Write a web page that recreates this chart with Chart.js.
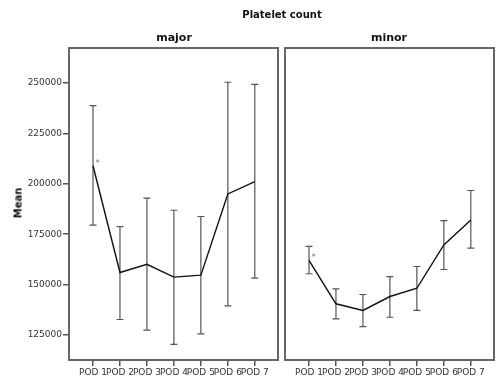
<!DOCTYPE html>
<html>
<head>
<meta charset="utf-8">
<script src="https://cdn.jsdelivr.net/npm/chart.js@4.4.1/dist/chart.umd.min.js"></script>
<style>
  body { margin: 0; background: #fff; }
  #wrap { position: relative; width: 500px; height: 385px; font-family: "DejaVu Sans", sans-serif; }
  canvas { position: absolute; top: 0; }
  .lbl { position: absolute; font-weight: bold; color: #111; white-space: nowrap; }
</style>
</head>
<body>
<div id="wrap">
  <canvas id="major-chart" width="282" height="385" style="left:0"></canvas>
  <canvas id="minor-chart" width="218" height="385" style="left:282px"></canvas>
  <div class="lbl" style="left:282px; top:9px; font-size:10px; transform:translateX(-50%)">Platelet count</div>
  <div class="lbl" style="left:174px; top:31px; font-size:11px; transform:translateX(-50%)">major</div>
  <div class="lbl" style="left:389px; top:31px; font-size:11px; transform:translateX(-50%)">minor</div>
  <div class="lbl" style="left:18px; top:203px; font-size:10px; transform:translate(-50%,-50%) rotate(-90deg)">Mean</div>
</div>
<script>
// === PLATELET COUNT, MEAN WITH ERROR BARS ===

const xLabels = ["POD 1", "POD 2", "POD 3", "POD 4", "POD 5", "POD 6", "POD 7"];
const yTicks  = [125000, 150000, 175000, 200000, 225000, 250000];

const majorMean  = [209000, 156000, 160100, 153700, 154700, 195000, 201100];
const majorUpper = [238800, 178800, 192900, 186900, 183800, 250400, 249400];
const majorLower = [179500, 132700, 127400, 120400, 125600, 139500, 153200];

const minorMean  = [162000, 140500, 137200, 144100, 148200, 169700, 182100];
const minorUpper = [169000, 147900, 145100, 154000, 159000, 181800, 196700];
const minorLower = [155400, 133000, 129200, 133800, 137200, 157500, 168100];

const Y_MIN = 112600;
const Y_MAX = 267400;

const errorBarPlugin = {
  id: "errorBars",
  beforeDatasetsDraw(chart, args, opts) {
    const { ctx } = chart;
    const xs = chart.scales.x;
    const ys = chart.scales.y;
    ctx.save();
    ctx.strokeStyle = "#555";
    ctx.lineWidth = 1.2;
    opts.upper.forEach((u, i) => {
      const x  = xs.getPixelForValue(i + 1);
      const yU = ys.getPixelForValue(u);
      const yL = ys.getPixelForValue(opts.lower[i]);
      ctx.beginPath();
      ctx.moveTo(x, yU); ctx.lineTo(x, yL);
      ctx.moveTo(x - 3.5, yU); ctx.lineTo(x + 3.5, yU);
      ctx.moveTo(x - 3.5, yL); ctx.lineTo(x + 3.5, yL);
      ctx.stroke();
    });
    ctx.restore();
  },
  afterDraw(chart) {
    const { ctx, chartArea: a } = chart;
    ctx.save();
    ctx.strokeStyle = "#666";
    ctx.lineWidth = 2;
    ctx.strokeRect(a.left, a.top, a.right - a.left, a.bottom - a.top);
    // star marker next to POD 1
    const x = chart.scales.x.getPixelForValue(1);
    const y = chart.scales.y.getPixelForValue(chart.data.datasets[0].data[0].y);
    ctx.fillStyle = "#777";
    ctx.font = "9px 'DejaVu Sans'";
    ctx.fillText("*", x + 2.5, y);
    ctx.restore();
  },
};

const buildPanel = (canvasId, means, upper, lower, showY, padding) => {
  const ctx = document.getElementById(canvasId).getContext("2d");
  return new Chart(ctx, {
    type: "line",
    data: {
      datasets: [{
        data: means.map((v, i) => ({ x: i + 1, y: v })),
        borderColor: "#111",
        borderWidth: 1.4,
        pointRadius: 0,
        tension: 0,
      }],
    },
    options: {
      responsive: false,
      devicePixelRatio: 1,
      animation: false,
      layout: { padding },
      plugins: {
        legend: { display: false },
        tooltip: { enabled: false },
        errorBars: { upper, lower },
      },
      scales: {
        x: {
          type: "linear",
          min: 0.11,
          max: 7.86,
          afterBuildTicks: (s) => { s.ticks = xLabels.map((_, i) => ({ value: i + 1 })); },
          afterFit: (s) => { s.height = 25; },
          ticks: {
            autoSkip: false,
            maxRotation: 0,
            padding: 1,
            color: "#333",
            font: { size: 9, family: "'DejaVu Sans', sans-serif" },
            callback: (v) => xLabels[v - 1],
          },
          grid: { drawOnChartArea: false, tickLength: 6, color: "#555", lineWidth: 1.5 },
          border: { display: false },
        },
        y: {
          display: showY,
          min: Y_MIN,
          max: Y_MAX,
          afterBuildTicks: (s) => { s.ticks = yTicks.map((v) => ({ value: v })); },
          afterFit: (s) => { s.width = showY ? 69 : 0; },
          ticks: {
            padding: 1,
            color: "#333",
            font: { size: 9, family: "'DejaVu Sans', sans-serif" },
            callback: (v) => String(v),
          },
          grid: { drawOnChartArea: false, tickLength: 6, color: "#555", lineWidth: 1.5 },
          border: { display: false },
        },
      },
    },
    plugins: [errorBarPlugin],
  });
};

buildPanel("major-chart", majorMean, majorUpper, majorLower, true,  { top: 48, right: 4, bottom: 0, left: 0 });
buildPanel("minor-chart", minorMean, minorUpper, minorLower, false, { top: 48, right: 6, bottom: 0, left: 3 });
</script>
</body>
</html>
